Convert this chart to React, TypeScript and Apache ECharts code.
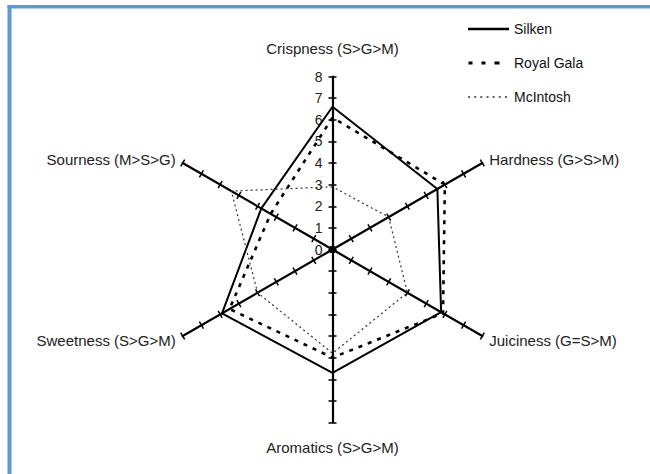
import React, { useEffect, useRef } from "react";
import * as echarts from "echarts";

// ---- data ----
// indicators listed counter-clockwise from the top (ECharts radar order)
const indicatorNames = [
  "Crispness (S>G>M)",
  "Sourness (M>S>G)",
  "Sweetness (S>G>M)",
  "Aromatics (S>G>M)",
  "Juiciness (G=S>M)",
  "Hardness (G>S>M)",
];
const axisMin = 0;
const axisMax = 8;
const seriesNames = ["Silken", "Royal Gala", "McIntosh"];
const silken = [6.6, 3.8, 5.9, 5.7, 5.8, 5.6];
const royalGala = [6.1, 3.3, 5.5, 5.0, 5.9, 6.0];
const mcintosh = [2.9, 5.4, 4.0, 4.8, 4.0, 3.0];

const FONT = "'Liberation Sans', Arial, Helvetica, sans-serif";
const CX = 332.5;
const CY = 249.5;
const R = 173;

export default function App() {
  const ref = useRef<HTMLDivElement>(null);

  useEffect(() => {
    document.body.style.margin = "0";
    const chart = echarts.init(ref.current!, undefined, { renderer: "svg" });

    const indicators = indicatorNames.map((n) => ({ name: n, min: axisMin, max: axisMax }));
    const baseRadar = {
      center: [CX, CY],
      radius: R,
      startAngle: 90,
      shape: "polygon",
      splitNumber: axisMax - axisMin,
      indicator: indicators,
      splitLine: { show: false },
      splitArea: { show: false },
      axisLabel: { show: false },
    };

    const nameTxt = { fontSize: 15, fontFamily: FONT, color: "#222" };

    const option: any = {
      animation: false,
      backgroundColor: "#ffffff",
      graphic: [
        { type: "rect", shape: { x: 7.5, y: 5, width: 643, height: 3.5 }, style: { fill: "#5b9bd5" } },
        { type: "rect", shape: { x: 7.5, y: 5, width: 4, height: 470 }, style: { fill: "#5b9bd5" } },
      ],
      radar: [
        {
          ...baseRadar,
          nameGap: 8,
          axisName: {
            ...nameTxt,
            verticalAlign: "middle",
            formatter: (name: string) => {
              if (name.startsWith("Crispness")) return "{up|" + name + "}";
              if (name.startsWith("Aromatics")) return "{down|" + name + "}";
              return "{p|" + name + "}";
            },
            rich: {
              up: { ...nameTxt, padding: [0, 0, 40, 0] },
              down: { ...nameTxt, padding: [34, 0, 0, 0] },
              p: { ...nameTxt },
            },
          },
          axisLine: { show: true, lineStyle: { color: "#000", width: 2.2 } },
          axisTick: { show: true, length: 4, lineStyle: { color: "#000", width: 1.5 } },
        },
        {
          ...baseRadar,
          axisName: { show: false },
          axisLine: { show: false },
          axisTick: { show: true, length: -4, lineStyle: { color: "#000", width: 1.5 } },
        },
      ],
      grid: { left: CX, top: CY - R, height: R, width: 10, show: false },
      xAxis: { type: "value", show: false, min: 0, max: 1 },
      yAxis: {
        type: "value",
        min: axisMin,
        max: axisMax,
        interval: 1,
        axisLine: { show: false },
        axisTick: { show: false },
        splitLine: { show: false },
        axisLabel: { fontSize: 14, color: "#222", fontFamily: FONT, margin: 10 },
      },
      legend: {
        orient: "vertical",
        left: 463,
        top: 17,
        itemWidth: 41,
        itemHeight: 3,
        itemGap: 20,
        textStyle: { fontSize: 14, color: "#111", fontFamily: FONT, lineHeight: 14 },
        itemStyle: { borderWidth: 0 },
        data: [
          { name: seriesNames[0], icon: "path://M0,0H40V2.4H0Z" },
          {
            name: seriesNames[1],
            icon: "path://M0,0H4V3H0Z M13,0H17V3H13Z M26,0H31V3H26Z M40,0H40.01V3H40Z",
          },
          {
            name: seriesNames[2],
            icon:
              "path://M0,0H2V1.5H0Z M6,0H8V1.5H6Z M12,0H14V1.5H12Z M18,0H20V1.5H18Z M24,0H26V1.5H24Z M30,0H32V1.5H30Z M36,0H38V1.5H36Z M40,0H40.01V1.5H40Z",
          },
        ],
      },
      series: [
        {
          type: "radar",
          radarIndex: 0,
          symbol: "none",
          z: 5,
          data: [
            {
              name: seriesNames[0],
              value: silken,
              itemStyle: { color: "#000" },
              lineStyle: { color: "#000", width: 2, type: "solid" },
            },
            {
              name: seriesNames[1],
              value: royalGala,
              itemStyle: { color: "#000" },
              lineStyle: { color: "#000", width: 2.6, type: [4, 6] },
            },
            {
              name: seriesNames[2],
              value: mcintosh,
              itemStyle: { color: "#333" },
              lineStyle: { color: "#333", width: 1.2, type: [2, 3] },
            },
          ],
        },
      ],
    };

    chart.setOption(option);
    return () => chart.dispose();
  }, []);

  return (
    <div
      ref={ref}
      style={{ position: "fixed", left: 0, top: 0, width: 650, height: 474, background: "#fff" }}
    />
  );
}
